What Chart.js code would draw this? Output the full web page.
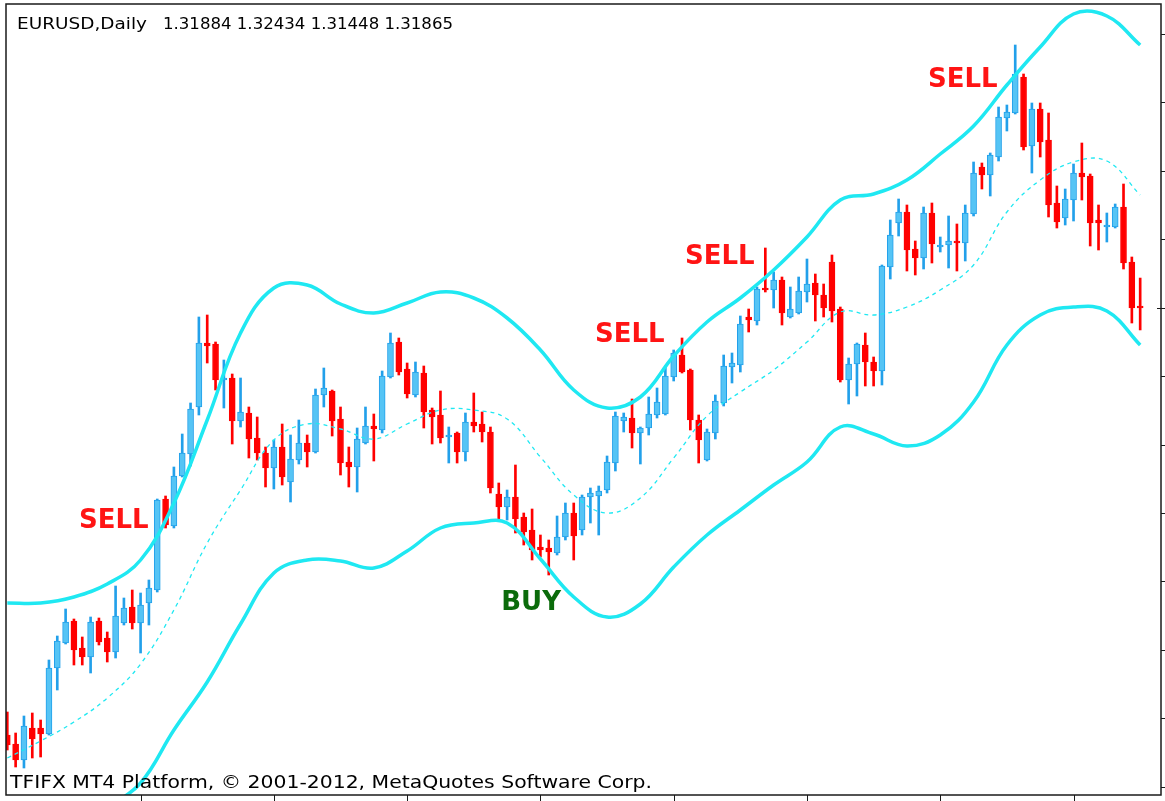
<!DOCTYPE html>
<html><head><meta charset="utf-8">
<script src="https://cdn.jsdelivr.net/npm/chart.js@4.4.1/dist/chart.umd.min.js"></script>
<style>html,body{margin:0;padding:0;background:#fff;}#wrap{width:1165px;height:801px;}</style>
</head><body><div id="wrap"><canvas id="c" width="1165" height="801"></canvas></div>
<script>
const symbolTitle = 'EURUSD,Daily';
const lastBarValues = '1.31884 1.32434 1.31448 1.31865';
const footerText = 'TFIFX MT4 Platform, \u00A9 2001-2012, MetaQuotes Software Corp.';

const opens = [1.23752,1.23581,1.23277,1.23885,1.23885,1.23771,1.25025,1.25500,1.25918,1.25405,
1.25234,1.25918,1.25595,1.25329,1.25880,1.26184,1.25880,1.26260,1.26507,1.28236,
1.27723,1.28673,1.29091,1.29984,1.31200,1.31181,1.30497,1.30535,1.29718,1.29870,
1.29395,1.29110,1.28825,1.29224,1.28559,1.28977,1.29300,1.29129,1.30212,1.30288,
1.29756,1.28939,1.28844,1.29300,1.29623,1.29547,1.30554,1.31219,1.30706,1.30212,
1.30630,1.29927,1.29832,1.29414,1.29490,1.29129,1.29699,1.29661,1.29509,1.28331,
1.28084,1.28274,1.27894,1.27647,1.27324,1.27305,1.27210,1.27514,1.27970,1.27647,
1.28274,1.28293,1.28407,1.28920,1.29718,1.29775,1.29490,1.29585,1.29832,1.29851,
1.30554,1.30972,1.30687,1.29737,1.28977,1.29490,1.30060,1.30744,1.30782,1.31694,
1.31618,1.32245,1.32207,1.32397,1.31694,1.31770,1.32169,1.32340,1.32112,1.32739,
1.31846,1.30497,1.30801,1.31162,1.30839,1.30668,1.32644,1.33480,1.33689,1.32986,
1.32815,1.33670,1.33024,1.33062,1.33138,1.33100,1.33651,1.34544,1.34392,1.34734,
1.35475,1.35570,1.36254,1.34943,1.35646,1.35057,1.33860,1.33575,1.33917,1.34430,
1.34373,1.33537,1.33404,1.33404,1.33784,1.32739,1.31884];

const highs = [1.24189,1.23790,1.24113,1.24170,1.24037,1.25177,1.25633,1.26146,1.25956,1.25614,
1.25994,1.25975,1.25709,1.26583,1.26355,1.26507,1.26450,1.26697,1.28236,1.28293,
1.28844,1.29471,1.30060,1.31694,1.31732,1.31219,1.30877,1.30611,1.30535,1.29984,
1.29794,1.29224,1.29357,1.29661,1.29452,1.29737,1.29452,1.30326,1.30725,1.30307,
1.29984,1.29224,1.29585,1.29984,1.29851,1.30668,1.31390,1.31295,1.30820,1.30839,
1.30763,1.29965,1.30288,1.29604,1.29509,1.29870,1.30250,1.29889,1.29604,1.28540,
1.28407,1.28882,1.27970,1.28046,1.27552,1.27457,1.27913,1.28160,1.28160,1.28312,
1.28445,1.28483,1.29053,1.29889,1.29870,1.30136,1.29604,1.30174,1.30345,1.30763,
1.31067,1.31295,1.30706,1.29832,1.29566,1.30212,1.30972,1.31010,1.31713,1.31846,
1.32264,1.33005,1.32549,1.32454,1.32264,1.32454,1.32796,1.32511,1.32321,1.32872,
1.31884,1.30915,1.31200,1.31390,1.30934,1.32682,1.33537,1.33936,1.33822,1.33138,
1.33784,1.33860,1.33214,1.33613,1.33461,1.33822,1.34639,1.34620,1.34810,1.35684,
1.35722,1.36862,1.36311,1.35760,1.35760,1.35570,1.34183,1.34126,1.34601,1.35000,
1.34411,1.33822,1.33670,1.33841,1.34221,1.32834,1.32434];

const lows = [1.23467,1.23144,1.23125,1.23315,1.23334,1.23752,1.24607,1.25481,1.25082,1.25082,
1.24930,1.25462,1.25139,1.25215,1.25842,1.25766,1.25310,1.25842,1.26469,1.27685,
1.27685,1.28654,1.28863,1.29832,1.30820,1.30307,1.29965,1.29281,1.29604,1.29015,
1.28977,1.28464,1.28426,1.28502,1.28179,1.28901,1.28844,1.29110,1.29984,1.29433,
1.28692,1.28464,1.28369,1.29281,1.28958,1.29490,1.30535,1.30592,1.30155,1.30174,
1.29585,1.29281,1.29300,1.28920,1.28920,1.28958,1.29509,1.29319,1.28350,1.27856,
1.27837,1.27590,1.27362,1.27077,1.27134,1.26792,1.27172,1.27457,1.27077,1.27552,
1.27780,1.27552,1.28350,1.28768,1.29509,1.29205,1.28901,1.29452,1.29775,1.29832,
1.30478,1.30630,1.29547,1.28920,1.28958,1.29376,1.30003,1.30440,1.30649,1.31409,
1.31542,1.32169,1.31865,1.31542,1.31675,1.31751,1.31979,1.31618,1.31694,1.31599,
1.30459,1.30041,1.30193,1.30383,1.30383,1.30402,1.32416,1.33233,1.32568,1.32492,
1.32606,1.32720,1.32929,1.32625,1.32568,1.32758,1.33613,1.34126,1.33993,1.34658,
1.35228,1.35551,1.34867,1.34430,1.34734,1.33594,1.33385,1.33442,1.33518,1.33917,
1.33043,1.32967,1.33119,1.33385,1.32606,1.31580,1.31448];

const closes = [1.23562,1.23277,1.23923,1.23676,1.23771,1.25025,1.25538,1.25899,1.25367,1.25234,
1.25899,1.25519,1.25329,1.26013,1.26165,1.25880,1.26222,1.26545,1.28217,1.27742,
1.28673,1.29110,1.29946,1.31200,1.31143,1.30497,1.30535,1.29718,1.29889,1.29376,
1.29110,1.28825,1.29224,1.28654,1.28996,1.29300,1.29129,1.30212,1.30345,1.29718,
1.28920,1.28844,1.29376,1.29623,1.29566,1.30573,1.31200,1.30649,1.30231,1.30649,
1.29889,1.29794,1.29395,1.29433,1.29129,1.29699,1.29623,1.29509,1.28445,1.28084,
1.28274,1.27856,1.27609,1.27267,1.27267,1.27229,1.27514,1.27970,1.27533,1.28274,
1.28350,1.28388,1.28939,1.29813,1.29794,1.29490,1.29585,1.29851,1.30079,1.30573,
1.31010,1.30649,1.29737,1.29357,1.29509,1.30098,1.30763,1.30820,1.31561,1.31637,
1.32226,1.32207,1.32397,1.31770,1.31846,1.32188,1.32321,1.32112,1.31865,1.31808,
1.30497,1.30801,1.31181,1.30839,1.30668,1.32663,1.33252,1.33689,1.32967,1.32815,
1.33670,1.33081,1.33062,1.33138,1.33100,1.33670,1.34430,1.34392,1.34772,1.35494,
1.35589,1.36311,1.34924,1.35646,1.35019,1.33822,1.33499,1.33936,1.34430,1.34354,
1.33480,1.33480,1.33442,1.33784,1.32720,1.31865,1.31865];

// Bollinger band readings, one every 4 bars
const bandIndex = [0,4,8,12,16,20,24,28,32,36,40,44,48,52,56,60,64,68,72,76,80,84,88,92,96,100,104,108,112,116,120,124,128,132,136];
const upperBand = [1.26260,1.26260,1.26374,1.26621,1.27077,1.28160,1.29737,1.31390,1.32245,1.32302,
1.31941,1.31770,1.31960,1.32169,1.32055,1.31675,1.31067,1.30307,1.29965,1.30174,
1.30953,1.31599,1.32055,1.32587,1.33214,1.33917,1.34031,1.34297,1.34791,1.35323,
1.36102,1.36824,1.37451,1.37413,1.36862];
const middleBand = [1.23315,1.23638,1.23999,1.24455,1.25101,1.26127,1.27400,1.28407,1.29357,1.29661,
1.29566,1.29376,1.29661,1.29927,1.29927,1.29756,1.29034,1.28312,1.27970,1.28255,
1.29015,1.29813,1.30269,1.30687,1.31219,1.31789,1.31732,1.31884,1.32207,1.32682,
1.33689,1.34297,1.34639,1.34658,1.34012];
const lowerBand = [null,null,null,1.22365,1.22840,1.23847,1.24759,1.25861,1.26830,1.27077,
1.27058,1.26925,1.27248,1.27685,1.27780,1.27780,1.27096,1.26374,1.25994,1.26241,
1.26944,1.27552,1.28027,1.28502,1.28939,1.29604,1.29471,1.29243,1.29452,1.30079,
1.31162,1.31732,1.31884,1.31808,1.31162];

const xTickIndex = [16,32,48,64,80,96,112,128];
const yTickValues = [1.37071,1.35771,1.34471,1.33171,1.31871,1.30571,1.29271,1.27971,1.26671,1.25371,1.24071,1.22771];

const signalLabels = ['SELL','BUY','SELL','SELL','SELL'];
const signalIndex = [8.6, 59.3, 70.55, 81.35, 110.53];
const signalPrice = [1.27685, 1.26127, 1.31219, 1.32701, 1.36064];

// ---- styling ----
const RED = '#ff0000';
const BLUE_FILL = '#55c4f5';
const BLUE_LINE = '#22a0ea';
const CYAN = '#1fe8f2';
const SELL_COLOR = '#ff1414';
const BUY_COLOR = '#0b6b0b';

const idx = opens.map((_, i) => i);
const isUp = opens.map((o, i) => closes[i] >= o);

function bandPoints(arr) {
  const pts = [];
  bandIndex.forEach((x, k) => { if (arr[k] !== null) pts.push({x: x, y: arr[k]}); });
  return pts;
}

function stretchText(ctx, text, x, y, font, width) {
  ctx.font = font;
  const w = ctx.measureText(text).width;
  ctx.save();
  ctx.translate(x, y);
  ctx.scale(width / w, 1);
  ctx.fillText(text, 0, 0);
  ctx.restore();
}

const overlay = {
  id: 'overlay',
  afterDraw(chart) {
    const ctx = chart.ctx, a = chart.chartArea, xs = chart.scales.x, ys = chart.scales.y;
    ctx.save();
    ctx.strokeStyle = '#1a1a1a';
    ctx.lineWidth = 1;
    ctx.beginPath();
    yTickValues.forEach(v => {
      const py = Math.round(ys.getPixelForValue(v)) + 0.5;
      ctx.moveTo(a.right, py); ctx.lineTo(a.right + 5, py);
    });
    xTickIndex.forEach(v => {
      const px = Math.round(xs.getPixelForValue(v)) + 0.5;
      ctx.moveTo(px, a.bottom); ctx.lineTo(px, a.bottom + 6);
    });
    const cp = Math.round(ys.getPixelForValue(closes[closes.length - 1])) + 0.5;
    ctx.moveTo(a.right - 4, cp); ctx.lineTo(a.right + 5, cp);
    ctx.stroke();
    ctx.lineWidth = 1.5;
    ctx.strokeRect(a.left, a.top, a.right - a.left, a.bottom - a.top);

    // texts
    ctx.fillStyle = '#000';
    ctx.textBaseline = 'alphabetic';
    stretchText(ctx, symbolTitle, 17, 29, '15px "DejaVu Sans"', 130);
    stretchText(ctx, lastBarValues, 163, 29, '15px "DejaVu Sans"', 290);
    stretchText(ctx, footerText, 10, 788, '17px "DejaVu Sans"', 642);

    ctx.font = 'bold 26px "DejaVu Sans"';
    signalLabels.forEach((t, k) => {
      ctx.fillStyle = t === 'BUY' ? BUY_COLOR : SELL_COLOR;
      ctx.fillText(t, xs.getPixelForValue(signalIndex[k]), ys.getPixelForValue(signalPrice[k]));
    });
    ctx.restore();
  }
};

new Chart(document.getElementById('c'), {
  data: {
    datasets: [
      {type: 'line', label: 'Upper', data: bandPoints(upperBand), borderColor: CYAN, borderWidth: 3.5,
       pointRadius: 0, tension: 0.4, clip: 0, order: 0},
      {type: 'line', label: 'Middle', data: bandPoints(middleBand), borderColor: CYAN, borderWidth: 1.3,
       borderDash: [4, 4], pointRadius: 0, tension: 0.4, clip: 0, order: 0},
      {type: 'line', label: 'Lower', data: bandPoints(lowerBand), borderColor: CYAN, borderWidth: 3.5,
       pointRadius: 0, tension: 0.4, clip: 0, order: 0},
      {type: 'bar', label: 'Body', data: idx.map(i => ({x: i, y: [opens[i], closes[i]]})),
       backgroundColor: isUp.map(u => u ? BLUE_FILL : RED), borderColor: isUp.map(u => u ? BLUE_LINE : RED),
       borderWidth: 1, borderSkipped: false, barThickness: 6, grouped: false, minBarLength: 2, order: 1},
      {type: 'bar', label: 'Wick', data: idx.map(i => ({x: i, y: [lows[i], highs[i]]})),
       backgroundColor: isUp.map(u => u ? BLUE_LINE : RED), borderWidth: 0, barThickness: 2,
       grouped: false, order: 2}
    ]
  },
  options: {
    responsive: false, animation: false, events: [],
    layout: {padding: {left: 6, top: 4, right: 4, bottom: 6}},
    scales: {
      x: {type: 'linear', min: -0.156, max: 138.5, offset: false, display: false},
      y: {type: 'linear', min: 1.22612, max: 1.37641, display: false}
    },
    plugins: {legend: {display: false}, tooltip: {enabled: false}}
  },
  plugins: [overlay]
});
</script>
</body></html>
